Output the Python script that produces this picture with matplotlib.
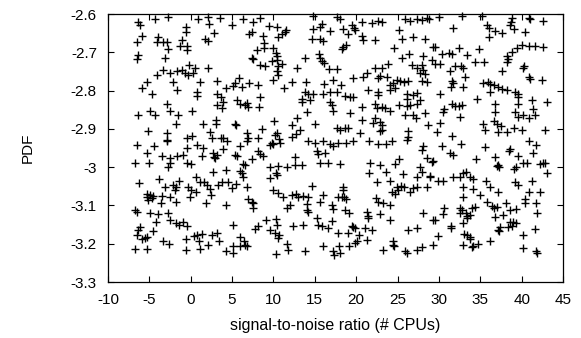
import matplotlib
matplotlib.use("Agg")
import matplotlib.pyplot as plt
from matplotlib.ticker import FuncFormatter, MultipleLocator

# values, grouped by region of the plot
# top row (PDF above about -2.93), left to right
snr_top_1 = [-6.41, -6.13, -4.31, -2.70, -0.57, -0.57, -6.53, -5.93, -3.91, -4.03,
             -3.39, -2.90, -2.70, -1.09, -1.29, -0.49, -0.49, -6.33, -6.53, -3.10,
             -4.03, -3.31, -2.50, -1.69, -1.09, -0.69, -0.28, -0.16, -5.32, -5.93,
             -4.72, -2.10, -1.69, -2.90, -4.92, -4.31, -2.50, -1.49, -6.33, 0.12,
             -1.77, -5.12, -2.90, -2.90, -0.49, 0.12]
pdf_top_1 = [-2.620, -2.630, -2.613, -2.609, -2.633, -2.646, -2.672, -2.657, -2.659, -2.672,
             -2.672, -2.674, -2.692, -2.668, -2.684, -2.684, -2.694, -2.707, -2.717, -2.714,
             -2.759, -2.746, -2.755, -2.750, -2.746, -2.755, -2.759, -2.733, -2.777, -2.792,
             -2.809, -2.777, -2.798, -2.836, -2.853, -2.864, -2.853, -2.864, -2.864, -2.853,
             -2.888, -2.905, -2.911, -2.929, -2.923, -2.918]

snr_top_2 = [0.92, 2.13, 2.25, 3.54, 4.95, 6.36, 7.57, 8.38, 9.47, 10.47,
             11.52, 11.40, 1.73, 2.13, 2.82, 7.09, 7.37, 8.78, 10.59, 10.99,
             14.62, 8.86, 7.97, 8.86, 9.99, 10.31, 10.47, 7.37, 7.57, 8.38,
             8.98, 9.79, 10.47, 10.99, 10.59, 10.39, 10.59, 13.82, 12.89, 0.52,
             0.32, 2.13, 1.12, 3.14, 5.88, 5.36, 5.15, 6.16, 7.09, 8.18,
             9.91, 11.28, 12.21, 13.94, 0.80, 0.72, 3.14, 3.62, 3.95, 4.27,
             5.56, 5.96, 6.57, 6.77, 6.97, 8.38, 8.30, 3.14, 3.74, 13.82,
             14.22, 13.42, 13.42, 14.42, 14.02, 1.45, 3.06, 3.06, 5.36, 5.48,
             8.58, 10.07, 12.21, 12.81, 13.21, 12.73, 2.33, 2.53, 3.62, 3.95,
             6.77, 6.97, 8.18, 10.19, 10.47, 10.72, 12.21]
pdf_top_2 = [-2.613, -2.607, -2.627, -2.610, -2.630, -2.614, -2.620, -2.611, -2.631, -2.633,
             -2.642, -2.646, -2.664, -2.670, -2.650, -2.653, -2.646, -2.657, -2.659, -2.653,
             -2.664, -2.677, -2.694, -2.690, -2.690, -2.703, -2.709, -2.716, -2.717, -2.733,
             -2.737, -2.723, -2.720, -2.731, -2.737, -2.749, -2.759, -2.716, -2.740, -2.740,
             -2.755, -2.740, -2.777, -2.775, -2.766, -2.781, -2.787, -2.790, -2.781, -2.785,
             -2.772, -2.794, -2.778, -2.777, -2.804, -2.813, -2.810, -2.816, -2.829, -2.794,
             -2.824, -2.836, -2.838, -2.833, -2.842, -2.818, -2.842, -2.838, -2.846, -2.804,
             -2.810, -2.822, -2.831, -2.824, -2.855, -2.888, -2.888, -2.877, -2.888, -2.891,
             -2.900, -2.879, -2.890, -2.871, -2.903, -2.914, -2.907, -2.925, -2.925, -2.923,
             -2.911, -2.925, -2.923, -2.916, -2.911, -2.926, -2.920]

snr_top_3 = [14.83, 17.65, 18.06, 14.83, 15.84, 15.64, 16.85, 18.46, 19.07, 19.47,
             19.75, 19.87, 20.68, 21.89, 22.69, 23.10, 25.92, 26.52, 27.33, 27.93,
             28.54, 28.86, 25.23, 15.64, 15.96, 18.46, 18.26, 18.78, 20.68, 20.80,
             22.29, 25.51, 26.92, 28.33, 29.34, 24.59, 15.56, 15.64, 15.84, 16.12,
             16.77, 17.65, 25.51, 26.44, 28.13, 29.14, 26.72, 27.33, 27.93, 28.13,
             28.33, 27.73, 22.29, 23.10, 23.90, 21.28, 22.89, 22.69, 23.70, 19.67,
             20.88, 16.12, 17.25, 18.14, 24.10, 24.42, 24.99, 25.31, 25.80, 26.32,
             24.71, 27.93, 28.62, 14.83, 16.04, 16.85, 17.65, 18.66, 19.27, 19.59,
             21.48, 22.69, 22.69, 24.10, 26.12, 26.12, 27.33, 26.92, 27.73, 16.85,
             17.05, 17.25, 19.27, 20.68, 22.29, 22.49, 23.10, 23.50, 24.10, 25.23,
             26.12, 26.52, 27.33, 25.92, 26.92, 27.25, 28.33, 20.68, 22.09, 22.29,
             22.89, 23.10, 23.10, 15.03, 17.65, 18.06, 18.66, 19.07, 20.48, 22.89,
             28.74, 26.32, 26.32]
pdf_top_3 = [-2.605, -2.607, -2.613, -2.639, -2.627, -2.633, -2.644, -2.639, -2.653, -2.630,
             -2.637, -2.642, -2.622, -2.624, -2.618, -2.620, -2.613, -2.618, -2.613, -2.616,
             -2.610, -2.613, -2.642, -2.664, -2.670, -2.685, -2.691, -2.681, -2.657, -2.668,
             -2.668, -2.664, -2.659, -2.664, -2.685, -2.690, -2.705, -2.716, -2.724, -2.729,
             -2.744, -2.744, -2.716, -2.705, -2.709, -2.720, -2.733, -2.740, -2.733, -2.746,
             -2.757, -2.755, -2.740, -2.740, -2.731, -2.753, -2.762, -2.766, -2.764, -2.766,
             -2.764, -2.784, -2.772, -2.785, -2.785, -2.781, -2.772, -2.775, -2.777, -2.775,
             -2.794, -2.775, -2.778, -2.810, -2.810, -2.804, -2.804, -2.813, -2.816, -2.816,
             -2.798, -2.803, -2.811, -2.798, -2.810, -2.822, -2.807, -2.811, -2.824, -2.829,
             -2.838, -2.853, -2.859, -2.844, -2.836, -2.846, -2.842, -2.846, -2.853, -2.838,
             -2.840, -2.838, -2.836, -2.865, -2.864, -2.871, -2.859, -2.877, -2.885, -2.872,
             -2.881, -2.891, -2.903, -2.888, -2.898, -2.903, -2.897, -2.898, -2.911, -2.905,
             -2.890, -2.905, -2.920]

snr_top_4 = [30.07, 32.77, 35.19, 38.81, 38.69, 38.61, 39.02, 40.83, 41.03, 42.64,
             31.68, 35.79, 36.11, 36.80, 37.60, 36.11, 40.43, 29.54, 30.35, 31.16,
             31.56, 32.37, 33.37, 34.90, 29.54, 30.15, 31.96, 32.65, 32.89, 31.36,
             34.38, 35.47, 38.21, 38.41, 38.21, 38.81, 39.42, 40.02, 40.83, 41.63,
             42.64, 40.14, 40.30, 37.60, 40.83, 41.03, 42.44, 33.17, 31.56, 31.68,
             31.44, 32.97, 35.31, 35.99, 36.19, 36.60, 37.20, 37.60, 38.21, 30.15,
             34.58, 36.19, 39.22, 39.50, 39.62, 41.23, 43.05, 36.80, 39.62, 41.43,
             31.56, 31.96, 32.37, 32.77, 30.63, 30.47, 32.57, 36.80, 39.22, 39.62,
             40.22, 41.63, 40.83, 30.15, 35.39, 35.59, 36.60, 37.00, 37.48, 37.20,
             38.21, 39.02, 40.02, 42.84, 29.75, 31.56]
pdf_top_4 = [-2.607, -2.605, -2.605, -2.611, -2.620, -2.630, -2.639, -2.610, -2.613, -2.618,
             -2.636, -2.630, -2.637, -2.644, -2.650, -2.659, -2.646, -2.685, -2.705, -2.703,
             -2.705, -2.690, -2.707, -2.691, -2.731, -2.731, -2.735, -2.737, -2.742, -2.749,
             -2.726, -2.726, -2.709, -2.717, -2.726, -2.698, -2.688, -2.681, -2.683, -2.683,
             -2.685, -2.742, -2.737, -2.749, -2.764, -2.770, -2.772, -2.764, -2.775, -2.781,
             -2.790, -2.790, -2.781, -2.778, -2.784, -2.785, -2.790, -2.796, -2.798, -2.810,
             -2.822, -2.804, -2.804, -2.810, -2.816, -2.824, -2.829, -2.836, -2.836, -2.848,
             -2.836, -2.839, -2.839, -2.838, -2.848, -2.857, -2.868, -2.857, -2.855, -2.868,
             -2.864, -2.865, -2.872, -2.885, -2.888, -2.903, -2.879, -2.888, -2.892, -2.907,
             -2.907, -2.898, -2.903, -2.903, -2.907, -2.918]

# bottom row (PDF below about -2.93), left to right
snr_bot_1 = [-6.53, -4.43, -2.90, -0.49, -5.23, -3.51, -2.50, -1.69, -0.89, -2.70,
             -2.50, -6.73, -5.00, -0.49, 0.00, -6.21, -3.79, -3.10, -2.10, -1.77,
             -1.90, -1.37, -0.28, 0.00, -5.32, -4.92, -5.23, -4.72, -4.51, -5.12,
             -3.51, -3.63, -2.50, -1.77, -0.08, -6.73, -6.53, -4.92, -3.91, -2.70,
             -2.50, -1.77, -1.37, -0.89, -0.49, -4.19, -6.13, -6.33, -4.51, -6.53,
             -5.52, -5.23, -5.93, -3.31, -2.57, -6.73, -5.23, -0.57, -0.57]
pdf_bot_1 = [-2.942, -2.946, -2.933, -2.951, -2.962, -2.971, -2.977, -2.971, -2.968, -2.999,
             -2.990, -2.988, -2.990, -2.990, -2.992, -3.042, -3.032, -3.051, -3.046, -3.053,
             -3.060, -3.035, -3.051, -3.060, -3.070, -3.073, -3.079, -3.081, -3.075, -3.086,
             -3.075, -3.093, -3.079, -3.090, -3.077, -3.113, -3.116, -3.120, -3.122, -3.120,
             -3.138, -3.145, -3.151, -3.142, -3.155, -3.142, -3.157, -3.164, -3.168, -3.177,
             -3.186, -3.183, -3.188, -3.194, -3.200, -3.214, -3.214, -3.216, -3.188]

snr_bot_2 = [0.72, 1.45, 1.33, 2.74, 2.82, 2.94, 3.14, 3.87, 4.43, 2.66,
             4.27, 5.36, 5.56, 5.96, 6.77, 6.36, 6.57, 7.37, 8.18, 8.38,
             8.78, 9.59, 9.79, 9.99, 10.80, 14.22, 12.61, 9.59, 10.59, 11.60,
             12.61, 13.42, 10.31, 10.47, 9.59, 0.64, 1.12, 1.61, 1.93, 0.64,
             2.33, 2.41, 3.34, 3.74, 4.55, 4.95, 5.48, 5.96, 6.16, 6.36,
             6.77, 1.85, 4.27, 6.97, 7.37, 7.57, 7.57, 9.91, 10.59, 11.20,
             12.21, 12.73, 13.01, 13.62, 14.22, 14.62, 12.01, 11.60, 14.02, 14.10,
             14.22, 5.15, 7.77, 8.18, 9.11, 9.59, 10.31, 10.47, 10.19, 10.59,
             10.72, 12.41, 13.62, 0.40, 0.80, 1.33, 1.04, 1.12, 2.13, 2.53,
             3.14, 3.46, 5.96, 6.45, 6.57, 6.77, 5.96, 5.07, 4.27, 5.07,
             11.68, 11.80, 13.82, 10.31]
pdf_bot_2 = [-2.942, -2.951, -2.971, -2.964, -2.973, -2.977, -2.968, -2.953, -2.933, -3.013,
             -3.007, -2.968, -2.971, -2.946, -2.933, -2.992, -2.994, -2.979, -2.959, -2.966,
             -2.971, -2.942, -2.936, -2.939, -2.938, -2.933, -2.974, -2.999, -2.997, -2.999,
             -2.994, -2.994, -3.016, -3.020, -3.029, -3.026, -3.040, -3.040, -3.046, -3.064,
             -3.058, -3.073, -3.046, -3.038, -3.040, -3.055, -3.044, -3.009, -3.016, -3.025,
             -3.051, -3.093, -3.099, -3.084, -3.090, -3.094, -3.107, -3.061, -3.068, -3.079,
             -3.073, -3.070, -3.077, -3.075, -3.079, -3.049, -3.099, -3.107, -3.096, -3.112,
             -3.116, -3.151, -3.162, -3.153, -3.138, -3.164, -3.136, -3.151, -3.173, -3.186,
             -3.177, -3.153, -3.151, -3.181, -3.177, -3.174, -3.194, -3.214, -3.203, -3.177,
             -3.171, -3.192, -3.183, -3.194, -3.203, -3.207, -3.207, -3.206, -3.220, -3.225,
             -3.200, -3.216, -3.218, -3.227]

snr_bot_3 = [15.03, 16.04, 16.85, 17.25, 17.86, 18.78, 19.59, 21.60, 22.69, 23.62,
             24.30, 26.12, 28.05, 27.93, 15.24, 15.44, 16.24, 15.64, 16.65, 18.06,
             21.68, 22.89, 24.71, 25.23, 21.60, 23.62, 25.63, 27.73, 27.93, 27.41,
             28.62, 29.14, 28.94, 16.04, 15.64, 17.05, 17.25, 18.46, 18.46, 18.54,
             18.26, 18.78, 17.86, 18.66, 19.19, 22.49, 24.10, 24.30, 24.71, 24.99,
             25.11, 25.39, 25.80, 26.52, 26.92, 27.41, 28.54, 22.41, 22.69, 23.22,
             24.10, 21.28, 21.48, 21.48, 22.89, 24.10, 28.05, 29.34, 15.24, 15.44,
             15.84, 16.65, 17.05, 17.86, 19.07, 19.47, 19.67, 19.87, 20.40, 21.08,
             21.89, 21.28, 20.08, 26.32, 27.41, 16.04, 17.25, 17.33, 18.06, 17.98,
             19.19, 19.87, 23.22, 24.51, 24.42, 24.59, 25.92, 26.12, 27.33, 27.93,
             29.26]
pdf_bot_3 = [-2.936, -2.933, -2.939, -2.945, -2.938, -2.936, -2.933, -2.933, -2.939, -2.939,
             -2.933, -2.929, -2.945, -2.955, -2.959, -2.966, -2.964, -2.990, -2.988, -2.992,
             -2.990, -2.994, -2.992, -2.979, -3.016, -3.012, -3.019, -2.999, -3.012, -3.026,
             -2.977, -2.986, -3.023, -3.073, -3.090, -3.099, -3.110, -3.053, -3.060, -3.077,
             -3.079, -3.084, -3.079, -3.112, -3.119, -3.040, -3.035, -3.064, -3.070, -3.051,
             -3.060, -3.049, -3.051, -3.066, -3.055, -3.053, -3.053, -3.081, -3.090, -3.093,
             -3.099, -3.116, -3.127, -3.133, -3.122, -3.138, -3.120, -3.138, -3.133, -3.151,
             -3.155, -3.160, -3.140, -3.171, -3.173, -3.153, -3.157, -3.160, -3.177, -3.160,
             -3.164, -3.190, -3.194, -3.164, -3.160, -3.206, -3.220, -3.229, -3.223, -3.207,
             -3.207, -3.197, -3.216, -3.192, -3.203, -3.206, -3.220, -3.223, -3.216, -3.209,
             -3.203]

snr_bot_4 = [30.35, 32.65, 35.59, 40.83, 41.76, 38.61, 38.53, 31.36, 31.68, 34.50,
             36.80, 37.20, 37.32, 37.00, 39.62, 39.02, 39.34, 40.22, 40.63, 41.35,
             42.24, 42.56, 42.84, 43.05, 29.34, 28.94, 29.95, 30.47, 31.76, 32.49,
             32.97, 33.29, 33.78, 34.10, 35.71, 36.19, 37.20, 39.22, 39.50, 41.23,
             40.83, 42.24, 32.97, 34.18, 34.99, 32.97, 35.87, 36.40, 36.60, 37.00,
             38.13, 38.61, 39.34, 40.43, 40.43, 41.76, 41.84, 37.80, 36.80, 30.63,
             30.55, 29.54, 32.49, 32.77, 32.57, 33.29, 33.45, 33.70, 33.37, 34.38,
             33.98, 32.97, 31.44, 31.44, 38.61, 38.93, 39.34, 38.81, 38.41, 37.40,
             37.20, 37.32, 40.14, 41.63, 29.95, 33.05, 33.45, 33.70, 33.78, 36.19,
             32.89, 33.98, 34.18, 34.78, 40.22, 41.76, 41.84]
pdf_bot_4 = [-2.945, -2.939, -2.948, -2.933, -2.942, -2.953, -2.959, -2.962, -2.968, -2.979,
             -2.974, -2.994, -3.000, -2.997, -2.971, -3.006, -2.999, -2.990, -2.990, -2.962,
             -2.992, -2.988, -2.990, -3.016, -2.983, -3.025, -3.035, -3.035, -3.026, -3.026,
             -3.014, -3.012, -3.025, -3.032, -3.035, -3.051, -3.066, -3.040, -3.046, -3.035,
             -3.066, -3.066, -3.053, -3.058, -3.073, -3.079, -3.090, -3.101, -3.107, -3.103,
             -3.094, -3.112, -3.109, -3.084, -3.094, -3.093, -3.119, -3.125, -3.129, -3.107,
             -3.122, -3.138, -3.107, -3.113, -3.120, -3.119, -3.127, -3.125, -3.133, -3.103,
             -3.107, -3.145, -3.153, -3.160, -3.142, -3.142, -3.145, -3.153, -3.157, -3.157,
             -3.164, -3.168, -3.177, -3.162, -3.181, -3.174, -3.177, -3.183, -3.188, -3.192,
             -3.203, -3.209, -3.206, -3.200, -3.212, -3.220, -3.225]

x_ticks_step = 5
y_ticks_step = 0.1

regions = [
    (snr_top_1, pdf_top_1), (snr_top_2, pdf_top_2),
    (snr_top_3, pdf_top_3), (snr_top_4, pdf_top_4),
    (snr_bot_1, pdf_bot_1), (snr_bot_2, pdf_bot_2),
    (snr_bot_3, pdf_bot_3), (snr_bot_4, pdf_bot_4),
]

plt.rcParams['font.family'] = ['Liberation Sans', 'DejaVu Sans']

fig = plt.figure(figsize=(5.81, 3.38), dpi=100)
ax = fig.add_axes([108 / 581, 1 - 282 / 338, (563 - 108) / 581, (282 - 14) / 338])

for snr, pdf in regions:
    n = min(len(snr), len(pdf))
    ax.scatter(snr[:n], pdf[:n], marker='+', s=26, c='black',
               linewidths=1.0, clip_on=False)

ax.set_xlim(-10, 45)
ax.set_ylim(-3.3, -2.6)
ax.xaxis.set_major_locator(MultipleLocator(x_ticks_step))
ax.yaxis.set_major_locator(MultipleLocator(y_ticks_step))
ax.xaxis.set_major_formatter(FuncFormatter(lambda v, p: '%g' % round(v, 2)))
ax.yaxis.set_major_formatter(FuncFormatter(lambda v, p: '%g' % round(v, 2)))
ax.tick_params(direction='in', top=True, right=True, length=4, width=0.8,
               labelsize=11)
ax.tick_params(axis='x', pad=8)
ax.tick_params(axis='y', pad=8)
for sp in ax.spines.values():
    sp.set_linewidth(0.9)

ax.set_xlabel('signal-to-noise ratio (# CPUs)', fontsize=11.5, labelpad=8)
ax.set_ylabel('PDF', fontsize=11, labelpad=26)

fig.savefig('out.png', dpi=100)
